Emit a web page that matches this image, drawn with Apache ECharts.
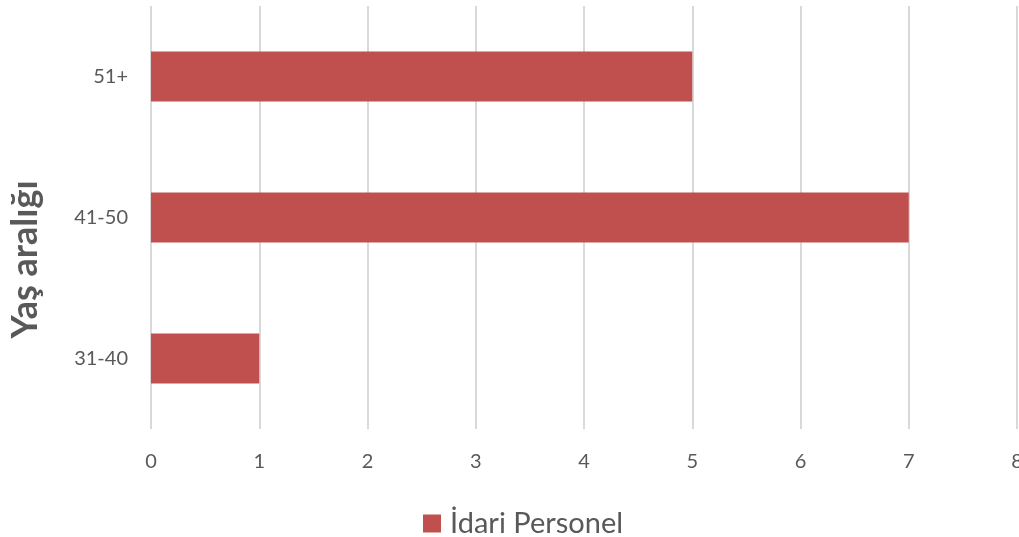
<!DOCTYPE html>
<html><head><meta charset="utf-8">
<script src="https://cdn.jsdelivr.net/npm/echarts@6/dist/echarts.min.js"></script>
<style>html,body{margin:0;padding:0;background:#fff;overflow:hidden}#c{width:1019px;height:537px}</style>
</head><body><div id="c"></div>
<script>
const categories = ['31-40', '41-50', '51+'];
const seriesName = 'İdari Personel';
const values = [1, 7, 5];
const xTicks = [0, 1, 2, 3, 4, 5, 6, 7, 8];
const yTitle = 'Yaş aralığı';

const chart = echarts.init(document.getElementById('c'));
chart.setOption({
  animation: false,
  textStyle: { fontFamily: 'Lato' },
  grid: { left: 151, top: 6, width: 866, height: 423, containLabel: false, outerBoundsMode: 'none' },
  legend: {
    top: 504, left: 418,
    itemWidth: 18, itemHeight: 18, itemGap: 10,
    icon: 'rect',
    textStyle: { fontSize: 29, color: '#595959', fontFamily: 'Lato', padding: [0, 0, 0, 4] },
    data: [seriesName]
  },
  xAxis: {
    type: 'value', min: xTicks[0], max: xTicks[xTicks.length - 1], interval: 1,
    axisLine: { show: false }, axisTick: { show: false },
    splitLine: { lineStyle: { color: '#d9d9d9', width: 2 } },
    axisLabel: { fontSize: 20, color: '#595959', margin: 23, fontFamily: 'Lato' }
  },
  yAxis: {
    type: 'category', data: categories,
    name: yTitle, nameLocation: 'middle', nameGap: 108, nameRotate: 90,
    nameTextStyle: { fontSize: 36, fontWeight: 'bold', color: '#595959', fontFamily: 'Lato', padding: [0, 84, 0, 0] },
    axisLine: { show: false }, axisTick: { show: false },
    axisLabel: { fontSize: 20, color: '#595959', margin: 23, fontFamily: 'Lato' }
  },
  series: [{
    name: seriesName, type: 'bar', data: values, barWidth: 50,
    itemStyle: { color: '#C0504D' }
  }]
});
</script></body></html>
